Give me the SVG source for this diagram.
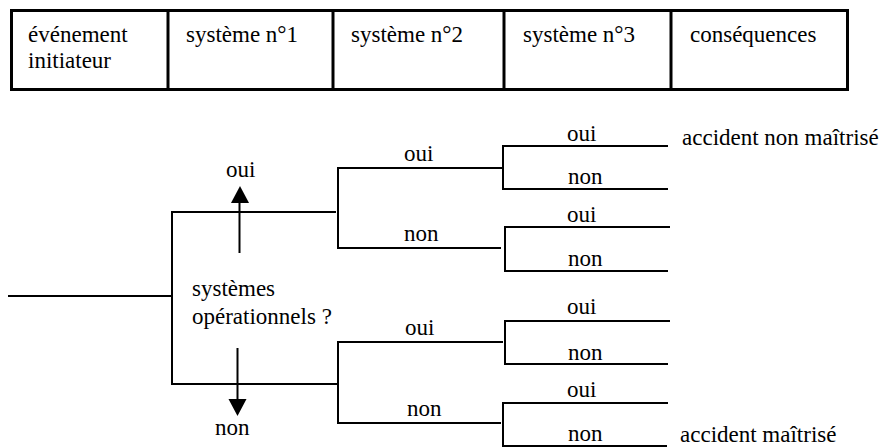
<svg xmlns="http://www.w3.org/2000/svg" width="884" height="447" viewBox="0 0 884 447" font-family="Liberation Serif, DejaVu Serif, serif">
<style>
text{font-family:'Liberation Serif','DejaVu Serif',serif;font-size:23px;fill:#000}
.tb{fill:none;stroke:#000;stroke-width:3}
.ln{fill:none;stroke:#000;stroke-width:2}
.ah{fill:#000}
</style>
<rect width="884" height="447" fill="#fff"/>
<g id="table">
<rect class="tb" x="11.5" y="10.5" width="836" height="79"/>
<line class="tb" x1="168" y1="10.5" x2="168" y2="89.5"/>
<line class="tb" x1="333" y1="10.5" x2="333" y2="89.5"/>
<line class="tb" x1="504" y1="10.5" x2="504" y2="89.5"/>
<line class="tb" x1="671" y1="10.5" x2="671" y2="89.5"/>
<text x="28" y="42">événement</text>
<text x="28" y="68">initiateur</text>
<text x="186" y="42">système n°1</text>
<text x="351" y="42">système n°2</text>
<text x="523" y="42">système n°3</text>
<text x="690" y="42">conséquences</text>
</g>
<g id="connectors">
<polyline class="ln" points="8,296 172,296"/>
<polyline class="ln" points="336,212 172,212 172,384 337,384"/>
<polyline class="ln" points="502,168 338,168 338,248 501,248"/>
<polyline class="ln" points="503,342 338,342 338,423 501,423"/>
<polyline class="ln" points="668,146 503,146 503,189 668,189"/>
<polyline class="ln" points="670,227 505,227 505,271 668,271"/>
<polyline class="ln" points="670,321 505,321 505,364 668,364"/>
<polyline class="ln" points="668,403 503,403 503,446 667,446"/>
<line class="ln" x1="239.5" y1="253" x2="239.5" y2="200"/>
<polygon class="ah" points="240,186 231,203 249,203"/>
<line class="ln" x1="237.5" y1="348" x2="237.5" y2="402"/>
<polygon class="ah" points="237.5,416 228.5,399 246.5,399"/>
</g>
<g id="question">
<text x="192" y="296">systèmes</text>
<text x="192" y="324">opérationnels ?</text>
</g>
<g id="arrow-oui"><text x="226" y="177">oui</text></g>
<g id="arrow-non"><text x="215" y="435">non</text></g>
<g id="s2-oui-top"><text x="404" y="161">oui</text></g>
<g id="s2-non-top"><text x="404" y="241">non</text></g>
<g id="s2-oui-bottom"><text x="405" y="335">oui</text></g>
<g id="s2-non-bottom"><text x="407" y="416">non</text></g>
<g id="s3-labels">
<text x="567" y="141">oui</text>
<text x="568" y="184">non</text>
<text x="567" y="222">oui</text>
<text x="568" y="266">non</text>
<text x="567" y="314">oui</text>
<text x="568" y="360">non</text>
<text x="567" y="397">oui</text>
<text x="568" y="441">non</text>
</g>
<g id="consequence-top"><text x="682" y="145">accident non maîtrisé</text></g>
<g id="consequence-bottom"><text x="680" y="442">accident maîtrisé</text></g>
</svg>
